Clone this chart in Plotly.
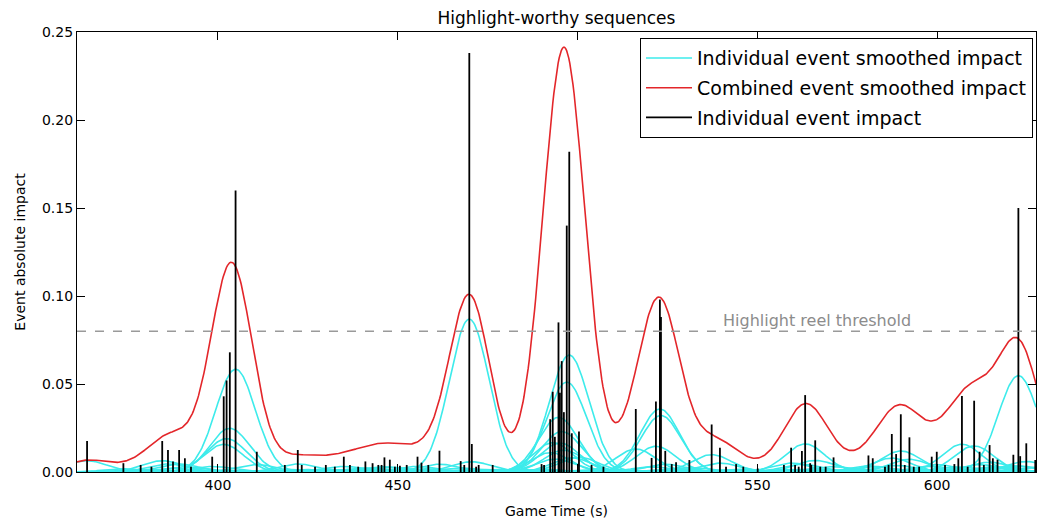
import numpy as np
import plotly.graph_objects as go

# ---- data ----
event_times = [363.6, 373.7, 378.5, 381.5, 384.5, 386.1, 387.5, 389.2,
               390.8, 392.5, 398.4, 401.6, 402.4, 403.3, 404.9, 410.8,
               418.6, 422.2, 423.3, 427.0, 430.0, 432.5, 435.0, 436.7,
               439.0, 441.0, 443.0, 444.6, 445.5, 446.3, 447.8, 449.2,
               450.6, 452.5, 455.5, 456.6, 458.5, 461.6, 467.5, 468.5,
               469.9, 470.6, 471.8, 472.5, 476.4, 490.0, 490.7, 492.4,
               493.1, 493.7, 494.7, 495.1, 495.6, 496.2, 497.0, 497.7,
               498.4, 500.4, 503.9, 507.2, 516.2, 520.6, 521.8, 522.9,
               523.2, 524.4, 526.2, 527.4, 531.1, 537.3, 539.6, 541.3,
               544.1, 546.1, 550.1, 557.4, 559.4, 560.5, 561.5, 562.4,
               563.3, 564.7, 565.0, 566.1, 567.5, 569.0, 571.2, 580.9,
               582.1, 585.5, 586.5, 587.4, 588.6, 589.9, 591.0, 592.3,
               593.5, 595.0, 598.5, 599.9, 602.2, 604.8, 605.9, 606.9,
               608.5, 610.3, 611.8, 613.0, 614.6, 615.5, 616.8, 621.2,
               622.6, 623.1, 624.8, 627.3]
event_impacts = [0.0176, 0.005, 0.004, 0.003, 0.0176, 0.0125, 0.006, 0.0125,
                 0.0078, 0.003, 0.0087, 0.043, 0.052, 0.068, 0.160, 0.0115,
                 0.004, 0.0125, 0.004, 0.003, 0.004, 0.003, 0.0087, 0.004,
                 0.003, 0.006, 0.005, 0.004, 0.004, 0.0083, 0.007, 0.003,
                 0.0035, 0.004, 0.0087, 0.0053, 0.004, 0.0121, 0.0062, 0.004,
                 0.238, 0.0159, 0.003, 0.004, 0.004, 0.0045, 0.004, 0.030,
                 0.0456, 0.020, 0.085, 0.045, 0.063, 0.034, 0.140, 0.182,
                 0.022, 0.023, 0.004, 0.003, 0.0358, 0.008, 0.040, 0.098,
                 0.088, 0.012, 0.0045, 0.0055, 0.0068, 0.027, 0.0138, 0.003,
                 0.0045, 0.003, 0.002, 0.004, 0.0138, 0.004, 0.003, 0.012,
                 0.0437, 0.005, 0.004, 0.018, 0.003, 0.003, 0.0083, 0.0094,
                 0.0078, 0.003, 0.004, 0.0216, 0.0102, 0.0328, 0.004, 0.0197,
                 0.003, 0.003, 0.0087, 0.0115, 0.004, 0.0045, 0.0078, 0.0432,
                 0.003, 0.0405, 0.0115, 0.004, 0.0153, 0.0078, 0.007, 0.0098,
                 0.150, 0.009, 0.0163, 0.0068]
threshold = 0.08
x_ticks = [400, 450, 500, 550, 600]
y_ticks = [0.00, 0.05, 0.10, 0.15, 0.20, 0.25]

# ---- smoothing parameters ----
SIGMA = 5.5
PEAK_SCALE = 0.365
X_MIN, X_MAX = 360.8, 627.5

grid = np.linspace(X_MIN, X_MAX, 900)
times = np.array(event_times)
imps = np.array(event_impacts)
kern = PEAK_SCALE * imps[:, None] * np.exp(-((grid[None, :] - times[:, None]) ** 2) / (2 * SIGMA ** 2))
combined = kern.sum(axis=0)

cx, cy = [], []
for row in kern:
    cx.extend(grid.tolist() + [None])
    cy.extend(row.tolist() + [None])

sx, sy = [], []
for t, v in zip(event_times, event_impacts):
    sx.extend([t, t, None])
    sy.extend([0, v, None])

CYAN = "#3debeb"
RED = "#e3262a"
FONT = "DejaVu Sans"

fig = go.Figure()
fig.add_trace(go.Scatter(x=cx, y=cy, mode="lines", line=dict(color=CYAN, width=1.6),
                         name="Individual event smoothed impact", hoverinfo="skip",
                         legendgroup="a"))
fig.add_trace(go.Scatter(x=grid, y=combined, mode="lines", line=dict(color=RED, width=1.6),
                         name="Combined event smoothed impact", legendgroup="b"))
fig.add_trace(go.Scatter(x=sx, y=sy, mode="lines", line=dict(color="black", width=1.8),
                         name="Individual event impact", legendgroup="c"))
fig.add_trace(go.Scatter(x=[X_MIN, X_MAX], y=[threshold, threshold], mode="lines",
                         line=dict(color="#9a9a9a", width=1.6, dash="dash"),
                         showlegend=False, hoverinfo="skip"))
fig.add_annotation(x=540, y=threshold, xref="x", yref="y", text="Highlight reel threshold",
                   showarrow=False, xanchor="left", yanchor="bottom", yshift=-1,
                   font=dict(family=FONT, size=16, color="#8c8c8c"))

fig.update_layout(
    width=1037, height=520,
    margin=dict(l=77, r=1, t=32, b=48),
    paper_bgcolor="white", plot_bgcolor="white",
    font=dict(family=FONT, size=14, color="black"),
    title=dict(text="Highlight-worthy sequences", x=(77 + 1036) / 2 / 1037, xanchor="center",
               y=1 - 18 / 520, yanchor="middle", font=dict(family=FONT, size=17, color="black")),
    showlegend=True,
    legend=dict(x=(640 - 77) / 959, xanchor="left", y=0.986, yanchor="top",
                bordercolor="black", borderwidth=1, bgcolor="white",
                itemwidth=46, font=dict(family=FONT, size=19), tracegroupgap=2),
)
fig.update_xaxes(range=[X_MIN, X_MAX], tickvals=x_ticks, ticktext=[str(v) for v in x_ticks],
                 ticks="inside", ticklen=8, tickcolor="black", mirror="allticks",
                 showline=True, linecolor="black", linewidth=1.3, showgrid=False, zeroline=False,
                 title=dict(text="Game Time (s)", font=dict(family=FONT, size=14), standoff=14),
                 tickfont=dict(family=FONT, size=14))
fig.update_yaxes(range=[0, 0.25], tickvals=y_ticks, ticktext=[f"{v:.2f}" for v in y_ticks],
                 ticks="inside", ticklen=8, tickcolor="black", mirror="allticks",
                 showline=True, linecolor="black", linewidth=1.3, showgrid=False, zeroline=False,
                 title=dict(text="Event absolute impact", font=dict(family=FONT, size=14), standoff=12),
                 tickfont=dict(family=FONT, size=14))

fig.write_html("out.html", config={"displayModeBar": False},
               post_script="document.body.style.margin='0px';")
